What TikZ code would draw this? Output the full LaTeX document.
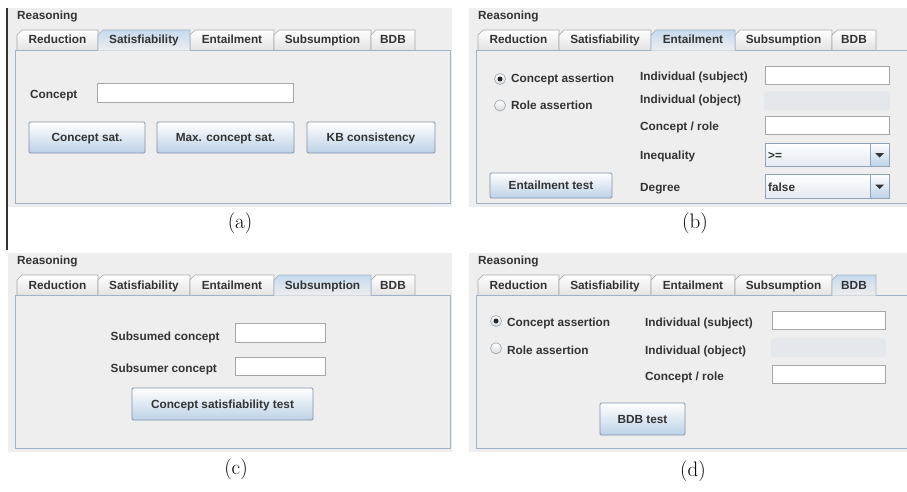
\documentclass[tikz,border=0pt]{standalone}
\usepackage{fontspec}
\newfontfamily\uifont{Liberation Sans}
\definecolor{panelbg}{HTML}{EEEEEE}
\definecolor{framecol}{HTML}{9FB3C8}
\definecolor{txt}{HTML}{333333}
\definecolor{tabborder}{HTML}{A8A8A8}
\definecolor{tabselTop}{HTML}{C6DAEE}
\definecolor{btnborder}{HTML}{7F93A8}
\definecolor{btnmid}{HTML}{E2EBF4}
\definecolor{btnbottom}{HTML}{BDD1E6}
\definecolor{fieldborder}{HTML}{A6A6A6}
\definecolor{disfill}{HTML}{E4E8EC}
\definecolor{comboborder}{HTML}{8EA4BA}
\definecolor{combobottom}{HTML}{E3EAF1}
\definecolor{radioborder}{HTML}{9AA9B8}

\newcommand\panelbase[2]{%
  \fill[panelbg] (8,8) rectangle (452,207);
  \node[lbl] (#1title) at (17,19.5) {Reasoning};
  \foreach \i/\xa/\xb in {1/17/98,2/98/190,3/190/274,4/274/371,5/371/415}{%
    \ifnum\i=#2\relax\else
      \path[tabun] (\xa,50) -- (\xa,35) -- (\xa+5,30) -- (\xb,30) -- (\xb,50);
    \fi}
  \draw[uiframe] (15,50) rectangle (450,203);
  \foreach \i/\xa/\xb in {1/17/98,2/98/190,3/190/274,4/274/371,5/371/415}{%
    \ifnum\i=#2\relax
      \path[tabsel] (\xa,50.7) -- (\xa,35) -- (\xa+5,30) -- (\xb,30) -- (\xb,50.7);
    \fi}
  \foreach \i/\xa/\xb/\lab in {1/17/98/Reduction,2/98/190/Satisfiability,3/190/274/Entailment,4/274/371/Subsumption,5/371/415/BDB}{%
    \node[tabtxt] (#1tab\i) at ({(\xa+\xb)/2},44) {\lab};}
}

\begin{document}
\begin{tikzpicture}[x=1pt,y=-1pt,
  ui/.style={font=\uifont\bfseries\fontsize{11.8}{14}\selectfont, text=txt, inner sep=0pt},
  lbl/.style={ui, anchor=base west},
  tabtxt/.style={ui, anchor=base},
  btn/.style={ui, draw=btnborder, top color=white, middle color=btnmid, bottom color=btnbottom,
    rounded corners=1.2pt, line width=0.8pt, text height=8.4pt, text depth=0pt},
  txtfield/.style={draw=fieldborder, fill=white, line width=0.8pt, inner sep=0pt},
  disfield/.style={fill=disfill, rounded corners=3pt, inner sep=0pt},
  combo/.style={draw=comboborder, top color=white, bottom color=combobottom, line width=0.8pt, inner sep=0pt},
  arrowbtn/.style={draw=comboborder, top color=white, bottom color=btnbottom, line width=0.8pt, inner sep=0pt},
  radio/.style={circle, draw=radioborder, top color=white, bottom color=black!14, line width=0.7pt,
    minimum size=11pt, inner sep=0pt},
  radiodot/.style={circle, fill=black!85, minimum size=5pt, inner sep=0pt},
  uiframe/.style={draw=framecol, line width=0.9pt},
  tabun/.style={draw=tabborder, top color=white, bottom color=black!11, line width=0.7pt},
  tabsel/.style={draw=framecol, top color=tabselTop, bottom color=panelbg, line width=0.7pt},
  capt/.style={font=\fontsize{21}{24}\selectfont, inner sep=0pt}
]
\useasboundingbox (0,0) rectangle (907,492);
\clip (0,0) rectangle (907,492);
\fill[white] (0,0) rectangle (907,492);

% left rule
\draw[line width=1.3pt, black!80] (7,8) -- (7,250);

% ---------- (a) Satisfiability ----------
\begin{scope}
  \panelbase{a}{2}
  \node[lbl] (a-lab) at (30,99) {Concept};
  \node[txtfield, minimum width=196pt, minimum height=19pt] (a-fld) at (195,92.5) {};
  \node[btn, minimum width=116pt, minimum height=31pt] (a-btn1) at (87,137.5) {Concept sat.};
  \node[btn, minimum width=137pt, minimum height=31pt] (a-btn2) at (225.5,137.5) {Max. concept sat.};
  \node[btn, minimum width=128pt, minimum height=31pt] (a-btn3) at (371,137.5) {KB consistency};
\end{scope}

% ---------- (b) Entailment ----------
\begin{scope}[shift={(461,0)}]
  \panelbase{b}{3}
  \node[radio] (b-r1) at (39,79) {};
  \node[radiodot] (b-d1) at (b-r1) {};
  \node[radio] (b-r2) at (39,105.5) {};
  \node[lbl] (b-t1) at (50,82.5) {Concept assertion};
  \node[lbl] (b-t2) at (50,110) {Role assertion};
  \node[lbl] (b-l1) at (179,81) {Individual (subject)};
  \node[lbl] (b-l2) at (179,104) {Individual (object)};
  \node[lbl] (b-l3) at (179,131) {Concept / role};
  \node[lbl] (b-l4) at (179,159) {Inequality};
  \node[lbl] (b-l5) at (179,191) {Degree};
  \node[txtfield, minimum width=124pt, minimum height=18pt] (b-f1) at (366,75) {};
  \node[disfield, minimum width=126pt, minimum height=19pt] (b-f2) at (366,101) {};
  \node[txtfield, minimum width=124pt, minimum height=18pt] (b-f3) at (366,125) {};
  \node[combo, minimum width=124pt, minimum height=23pt] (b-c1) at (366,154.5) {};
  \node[arrowbtn, minimum width=19pt, minimum height=23pt, anchor=east] (b-a1) at (b-c1.east) {};
  \fill[txt] ([xshift=-4.5pt,yshift=1.5pt]b-a1.center) -- ([xshift=4.5pt,yshift=1.5pt]b-a1.center) -- ([yshift=-3pt]b-a1.center) -- cycle;
  \node[lbl] (b-v1) at (307,159) {>=};
  \node[combo, minimum width=124pt, minimum height=24pt] (b-c2) at (366,186) {};
  \node[arrowbtn, minimum width=19pt, minimum height=24pt, anchor=east] (b-a2) at (b-c2.east) {};
  \fill[txt] ([xshift=-4.5pt,yshift=1.5pt]b-a2.center) -- ([xshift=4.5pt,yshift=1.5pt]b-a2.center) -- ([yshift=-3pt]b-a2.center) -- cycle;
  \node[lbl] (b-v2) at (307,191) {false};
  \node[btn, minimum width=122pt, minimum height=25pt] (b-btn) at (90,185.5) {Entailment test};
\end{scope}

% ---------- (c) Subsumption ----------
\begin{scope}[shift={(0,245)}]
  \panelbase{c}{4}
  \node[lbl] (c-l1) at (110.5,95) {Subsumed concept};
  \node[lbl] (c-l2) at (110.5,127) {Subsumer concept};
  \node[txtfield, minimum width=90pt, minimum height=19pt] (c-f1) at (280,87.5) {};
  \node[txtfield, minimum width=90pt, minimum height=18pt] (c-f2) at (280,121) {};
  \node[btn, minimum width=181pt, minimum height=32pt] (c-btn) at (222.5,159) {Concept satisfiability test};
\end{scope}

% ---------- (d) BDB ----------
\begin{scope}[shift={(461,245)}]
  \panelbase{d}{5}
  \node[radio] (d-r1) at (35,76) {};
  \node[radiodot] (d-d1) at (d-r1) {};
  \node[radio] (d-r2) at (35,103.3) {};
  \node[lbl] (d-t1) at (46,81) {Concept assertion};
  \node[lbl] (d-t2) at (46,109) {Role assertion};
  \node[lbl] (d-l1) at (184,81) {Individual (subject)};
  \node[lbl] (d-l2) at (184,109) {Individual (object)};
  \node[lbl] (d-l3) at (184,135) {Concept / role};
  \node[txtfield, minimum width=113pt, minimum height=18pt] (d-f1) at (367.5,75) {};
  \node[disfield, minimum width=115pt, minimum height=19pt] (d-f2) at (367.5,102.5) {};
  \node[txtfield, minimum width=113pt, minimum height=18pt] (d-f3) at (367.5,129) {};
  \node[btn, minimum width=85pt, minimum height=32pt] (d-btn) at (181.5,174) {BDB test};
\end{scope}

% captions
\node[capt] (cap-a) at (240,223) {(a)};
\node[capt] (cap-b) at (695,223) {(b)};
\node[capt] (cap-c) at (236,469) {(c)};
\node[capt] (cap-d) at (693,471) {(d)};
\end{tikzpicture}
\end{document}
